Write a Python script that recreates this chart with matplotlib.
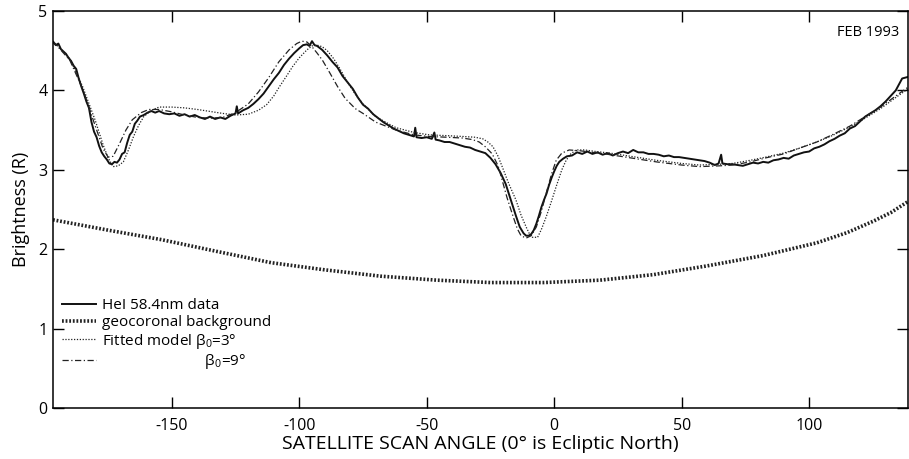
import matplotlib
matplotlib.use("Agg")
import matplotlib.pyplot as plt

plt.rcParams['font.family'] = ['Open Sans', 'DejaVu Sans']
plt.rcParams['mathtext.fontset'] = 'custom'
plt.rcParams['mathtext.rm'] = 'Open Sans'
plt.rcParams['mathtext.it'] = 'Open Sans'
plt.rcParams['axes.unicode_minus'] = False

# HeI 58.4 nm scan, February 1993
scan_angle = [
    -196.6, -195.5, -194.5, -193.5, -192.5, -191.5, -190.5, -189.5, -188.5, -187.5,
    -186.5, -185.5, -184.5, -183.5, -182.5, -181.5, -180.5, -179.5, -178.5, -177.5,
    -176.5, -175.5, -174.5, -173.5, -172.5, -171.5, -170.5, -169.5, -168.5, -167.5,
    -166.5, -165.5, -164.5, -163.5, -162.5, -161, -159.5, -158, -156.5, -155,
    -153, -151, -149, -147, -145, -143, -141, -139, -137, -135,
    -133, -131, -129, -127, -125, -124.5, -124, -122, -120, -118,
    -116, -114, -112, -110, -108, -106, -104, -102, -100, -98.5,
    -97, -96, -95, -94, -93, -91, -89, -87, -85, -83,
    -81, -79, -77, -75, -73, -71, -69, -67, -65, -63,
    -61, -59, -57, -55, -54.5, -54, -52, -50, -48, -47,
    -46.5, -45, -43, -41, -39, -37, -35, -33, -31, -29,
    -27, -25, -23, -21, -19, -17, -15, -13.5, -12, -11,
    -10, -9, -8, -7, -6, -5, -4, -3, -2, -1,
    0, 1, 2, 3.5, 5, 7, 9, 11, 13, 15,
    17, 19, 21, 23, 25, 27, 29, 31, 33, 35,
    37, 39, 41, 43, 45, 47, 49, 51, 53, 55,
    57, 59, 61, 63, 64.5, 65.5, 66, 68, 70, 72,
    74, 76, 78, 80, 82, 84, 86, 88, 90, 92,
    94, 96, 98, 100, 102, 104, 106, 108, 110, 112,
    114, 116, 118, 120, 122, 124, 126, 128, 130, 132,
    134, 135.5, 136.5, 138.8,
]
hei_data = [
    4.61, 4.57, 4.59, 4.52, 4.49, 4.46, 4.41, 4.37, 4.31, 4.27,
    4.15, 4.05, 3.96, 3.86, 3.78, 3.60, 3.48, 3.41, 3.30, 3.22,
    3.17, 3.13, 3.08, 3.07, 3.10, 3.09, 3.13, 3.20, 3.22, 3.34,
    3.44, 3.48, 3.58, 3.62, 3.67, 3.69, 3.72, 3.74, 3.72, 3.74,
    3.71, 3.70, 3.71, 3.68, 3.70, 3.67, 3.69, 3.66, 3.64, 3.67,
    3.64, 3.66, 3.64, 3.68, 3.71, 3.80, 3.71, 3.75, 3.78, 3.83,
    3.89, 3.96, 4.05, 4.14, 4.22, 4.32, 4.40, 4.47, 4.53, 4.57,
    4.58, 4.56, 4.62, 4.57, 4.56, 4.51, 4.44, 4.36, 4.29, 4.18,
    4.10, 4.02, 3.91, 3.82, 3.77, 3.70, 3.65, 3.60, 3.56, 3.52,
    3.49, 3.46, 3.44, 3.42, 3.53, 3.41, 3.40, 3.41, 3.39, 3.47,
    3.38, 3.37, 3.35, 3.35, 3.33, 3.31, 3.29, 3.28, 3.25, 3.23,
    3.21, 3.15, 3.07, 2.96, 2.82, 2.62, 2.42, 2.28, 2.20, 2.17,
    2.17, 2.19, 2.24, 2.32, 2.42, 2.53, 2.62, 2.70, 2.81, 2.90,
    2.98, 3.05, 3.10, 3.14, 3.17, 3.18, 3.22, 3.20, 3.23, 3.20,
    3.22, 3.19, 3.21, 3.18, 3.21, 3.23, 3.21, 3.25, 3.22, 3.22,
    3.20, 3.20, 3.19, 3.17, 3.18, 3.16, 3.16, 3.15, 3.14, 3.13,
    3.12, 3.11, 3.09, 3.06, 3.08, 3.19, 3.08, 3.07, 3.07, 3.06,
    3.05, 3.07, 3.09, 3.08, 3.10, 3.09, 3.12, 3.13, 3.15, 3.14,
    3.18, 3.20, 3.22, 3.23, 3.27, 3.29, 3.32, 3.36, 3.39, 3.43,
    3.46, 3.52, 3.55, 3.61, 3.67, 3.71, 3.75, 3.80, 3.86, 3.93,
    4.00, 4.09, 4.15, 4.17,
]

# geocoronal background
geo_angle = [-196.6, -175, -154, -132, -111, -90, -68, -46, -25, -4,
             18, 39, 60, 82, 103, 115, 125, 132, 138.8]
geo_bright = [2.37, 2.24, 2.12, 1.97, 1.83, 1.74, 1.66, 1.61, 1.58, 1.58,
              1.61, 1.68, 1.79, 1.92, 2.08, 2.21, 2.35, 2.46, 2.60]

# fitted model, beta0 = 3 deg
fit3_angle = [
    -196.6, -190, -185, -180, -177, -175, -173, -171, -169, -167,
    -165, -163, -161, -158, -155, -150, -145, -140, -136, -130,
    -125, -120, -116, -112.8, -110, -107.7, -105, -102.6, -100, -97,
    -95, -93, -91, -89, -86.5, -84, -81, -78, -75, -70,
    -65, -62, -55, -49, -42, -36, -31, -28, -26, -24,
    -22, -20.4, -18, -15, -13, -11, -9.5, -8.5, -6.5, -5,
    -3.1, -1, 0.8, 3, 4.7, 6.5, 8.6, 12, 16.4, 22,
    30, 40, 50, 57, 65, 70, 77, 83, 90, 96,
    103, 109, 116, 122, 128, 134, 138.8,
]
fit3_bright = [
    4.62, 4.40, 4.05, 3.62, 3.32, 3.15, 3.04, 3.05, 3.10, 3.25,
    3.42, 3.56, 3.67, 3.75, 3.79, 3.79, 3.78, 3.76, 3.74, 3.71,
    3.69, 3.70, 3.75, 3.82, 3.93, 4.05, 4.18, 4.30, 4.41, 4.51,
    4.56, 4.57, 4.55, 4.50, 4.40, 4.27, 4.10, 3.95, 3.83, 3.67,
    3.58, 3.53, 3.47, 3.44, 3.43, 3.42, 3.41, 3.39, 3.35, 3.29,
    3.17, 3.04, 2.84, 2.62, 2.43, 2.28, 2.18, 2.15, 2.15, 2.25,
    2.41, 2.61, 2.79, 3.00, 3.12, 3.20, 3.25, 3.25, 3.23, 3.21,
    3.17, 3.12, 3.08, 3.06, 3.07, 3.08, 3.12, 3.16, 3.21, 3.27,
    3.35, 3.43, 3.54, 3.65, 3.77, 3.91, 4.02,
]

# fitted model, beta0 = 9 deg
fit9_angle = [
    -196.6, -190, -185, -180, -177, -175, -173, -170.5, -168, -165.5,
    -162, -159, -155, -150, -145, -140, -135, -130, -125, -120,
    -116, -112, -108, -104, -101, -99, -97, -95, -93, -90.9,
    -88, -85, -82, -78, -75, -70, -62, -55, -49, -42,
    -36, -32, -29.4, -27, -24.3, -22, -20.4, -18.5, -16.5, -14.5,
    -13, -11, -9, -7, -5, -3, -1, 0.8, 3, 5.9,
    10, 15, 20, 30, 40, 50, 57, 65, 70, 77,
    83, 90, 96, 103, 109, 116, 122, 128, 134, 138.8,
]
fit9_bright = [
    4.62, 4.38, 4.02, 3.55, 3.27, 3.16, 3.17, 3.33, 3.50, 3.63,
    3.72, 3.76, 3.76, 3.73, 3.69, 3.66, 3.65, 3.66, 3.72, 3.83,
    3.98, 4.16, 4.36, 4.51, 4.59, 4.62, 4.61, 4.55, 4.47, 4.38,
    4.22, 4.05, 3.90, 3.77, 3.71, 3.60, 3.50, 3.44, 3.42, 3.41,
    3.40, 3.38, 3.35, 3.29, 3.20, 3.05, 2.87, 2.65, 2.45, 2.26,
    2.17, 2.14, 2.17, 2.28, 2.48, 2.72, 2.95, 3.12, 3.21, 3.25,
    3.24, 3.22, 3.20, 3.15, 3.10, 3.06, 3.04, 3.05, 3.06, 3.10,
    3.15, 3.20, 3.27, 3.35, 3.44, 3.55, 3.67, 3.79, 3.93, 4.04,
]

x_ticks = [-150, -100, -50, 0, 50, 100]
y_ticks = [0, 1, 2, 3, 4, 5]

fig = plt.figure(figsize=(9.09, 4.59), dpi=100)
ax = fig.add_axes([53 / 909, 51 / 459, 855 / 909, 397 / 459])

ax.plot(scan_angle, hei_data, color='#111111', lw=1.4,
        label='HeI 58.4nm data')
ax.plot(geo_angle, geo_bright, color='#222222', lw=2.6,
        linestyle=(0, (0.5, 0.5)), label='geocoronal background')
ax.plot(fit3_angle, fit3_bright, color='#222222', lw=0.9,
        linestyle=(0, (1, 1.3)), label='Fitted model $\\beta_0$=3°')
ax.plot(fit9_angle, fit9_bright, color='#222222', lw=0.9,
        linestyle=(0, (5, 2, 1, 2)),
        label='                          $\\beta_0$=9°')

ax.set_xlim(-196.6, 138.8)
ax.set_ylim(0, 5)
ax.set_xticks(x_ticks)
ax.set_yticks(y_ticks)
ax.tick_params(direction='in', top=True, right=True, length=8, width=1,
               labelsize=11.5)
ax.tick_params(axis='x', pad=7)
ax.tick_params(axis='y', pad=4)
for s in ax.spines.values():
    s.set_linewidth(1.1)

ax.set_xlabel('SATELLITE SCAN ANGLE (0° is Ecliptic North)', fontsize=14,
              labelpad=1)
ax.set_ylabel('Brightness (R)', fontsize=13, labelpad=6)

ax.text(0.99, 0.945, 'FEB 1993', transform=ax.transAxes, ha='right',
        va='center', fontsize=10.5)

ax.legend(loc='lower left', bbox_to_anchor=(0.0, 0.07), frameon=False,
          fontsize=11, handlelength=2.2, handletextpad=0.4,
          labelspacing=0.1, borderaxespad=0.2)

fig.savefig('out.png', dpi=100)
